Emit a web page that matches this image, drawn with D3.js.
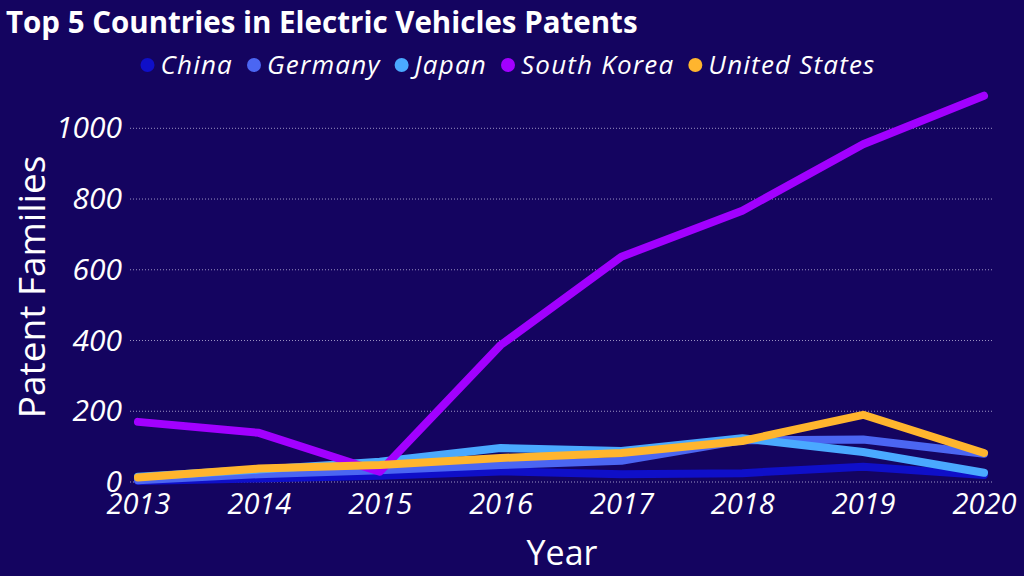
<!DOCTYPE html>
<html>
<head>
<meta charset="utf-8">
<script src="https://cdn.jsdelivr.net/npm/d3@7"></script>
<style>
 html, body { margin: 0; padding: 0; background: #140460; }
 svg { display: block; }
 text { fill: #fff; font-family: "Open Sans", sans-serif; }
</style>
</head>
<body>
<div id="chart"></div>
<script>
(function () {
 const width = 1024;
 const height = 576;

 // data
 const years = [2013, 2014, 2015, 2016, 2017, 2018, 2019, 2020];
 const countries = ["China", "Germany", "Japan", "South Korea", "United States"];
 const china = [3, 10, 18, 30, 22, 25, 43, 20];
 const germany = [5, 22, 33, 48, 60, 118, 120, 80];
 const japan = [15, 35, 57, 96, 88, 124, 85, 26];
 const southKorea = [170, 139, 29, 387, 637, 767, 955, 1092];
 const unitedStates = [13, 38, 48, 68, 82, 116, 190, 82];
 const yTicks = [0, 200, 400, 600, 800, 1000];

 const seriesValues = [china, germany, japan, southKorea, unitedStates];
 const colors = ["#0f0fc8", "#4b66f2", "#4aa9ff", "#a200ff", "#ffb52e"];

 const series = countries.map((name, i) => ({
  name: name,
  color: colors[i],
  values: years.map((y, j) => ({ year: y, value: seriesValues[i][j] })),
 }));

 const svg = d3
  .select("#chart")
  .append("svg")
  .attr("width", width)
  .attr("height", height);

 const x = d3.scaleLinear().domain([2013, 2020]).range([138, 984]);
 const y = d3.scaleLinear().domain([0, 1000]).range([482, 128.3]);

 // dotted gridlines
 svg
  .append("g")
  .selectAll("line")
  .data(yTicks)
  .enter()
  .append("line")
  .attr("x1", 130)
  .attr("x2", 992)
  .attr("y1", (d) => y(d))
  .attr("y2", (d) => y(d))
  .attr("stroke", "#9c94c4")
  .attr("stroke-width", 1)
  .attr("stroke-dasharray", "1 2");

 // y axis labels
 const yAxis = svg
  .append("g")
  .attr("transform", "translate(122,0)")
  .call(
   d3
    .axisLeft(y)
    .tickValues(yTicks)
    .tickFormat(d3.format("d"))
    .tickSize(0)
    .tickPadding(0)
  );
 yAxis.select(".domain").remove();
 yAxis
  .selectAll("text")
  .attr("fill", "#fff")
  .style("font-size", "30px")
  .style("font-style", "italic")
  .style("font-family", '"Open Sans", sans-serif');

 // x axis labels
 const xAxis = svg
  .append("g")
  .attr("transform", "translate(0,493)")
  .call(
   d3
    .axisBottom(x)
    .tickValues(years)
    .tickFormat(d3.format("d"))
    .tickSize(0)
    .tickPadding(0)
  );
 xAxis.select(".domain").remove();
 xAxis
  .selectAll("text")
  .attr("fill", "#fff")
  .attr("dy", "0.74em")
  .style("font-size", "29px")
  .style("font-style", "italic")
  .style("font-family", '"Open Sans", sans-serif');

 // lines
 const line = d3
  .line()
  .x((d) => x(d.year))
  .y((d) => y(d.value));

 svg
  .append("g")
  .selectAll("path")
  .data(series)
  .enter()
  .append("path")
  .attr("d", (d) => line(d.values))
  .attr("fill", "none")
  .attr("stroke", (d) => d.color)
  .attr("stroke-width", 8)
  .attr("stroke-linecap", "round")
  .attr("stroke-linejoin", "round");

 // title
 svg
  .append("text")
  .attr("x", 6)
  .attr("y", 33)
  .style("font-size", "29.5px")
  .style("font-weight", "bold")
  .text("Top 5 Countries in Electric Vehicles Patents");

 // axis titles
 svg
  .append("text")
  .attr("transform", "translate(45,287) rotate(-90)")
  .attr("text-anchor", "middle")
  .style("font-size", "37px")
  .text("Patent Families");

 svg
  .append("text")
  .attr("x", 562)
  .attr("y", 565)
  .attr("text-anchor", "middle")
  .style("font-size", "34px")
  .text("Year");

 // legend, laid out left to right then centred
 const legend = svg.append("g");
 let cursor = 0;
 series.forEach((s) => {
  const item = legend.append("g").attr("transform", `translate(${cursor},0)`);
  item.append("circle").attr("cx", 7).attr("cy", 0).attr("r", 7).attr("fill", s.color);
  const t = item
   .append("text")
   .attr("x", 20)
   .attr("y", 9)
   .style("font-size", "26px")
   .style("font-style", "italic")
   .style("letter-spacing", "1.2px")
   .text(s.name);
  cursor += 20 + t.node().getComputedTextLength() + 14;
 });
 const legendWidth = cursor - 14;
 legend.attr("transform", `translate(${508 - legendWidth / 2},65)`);
})();
</script>
</body>
</html>
